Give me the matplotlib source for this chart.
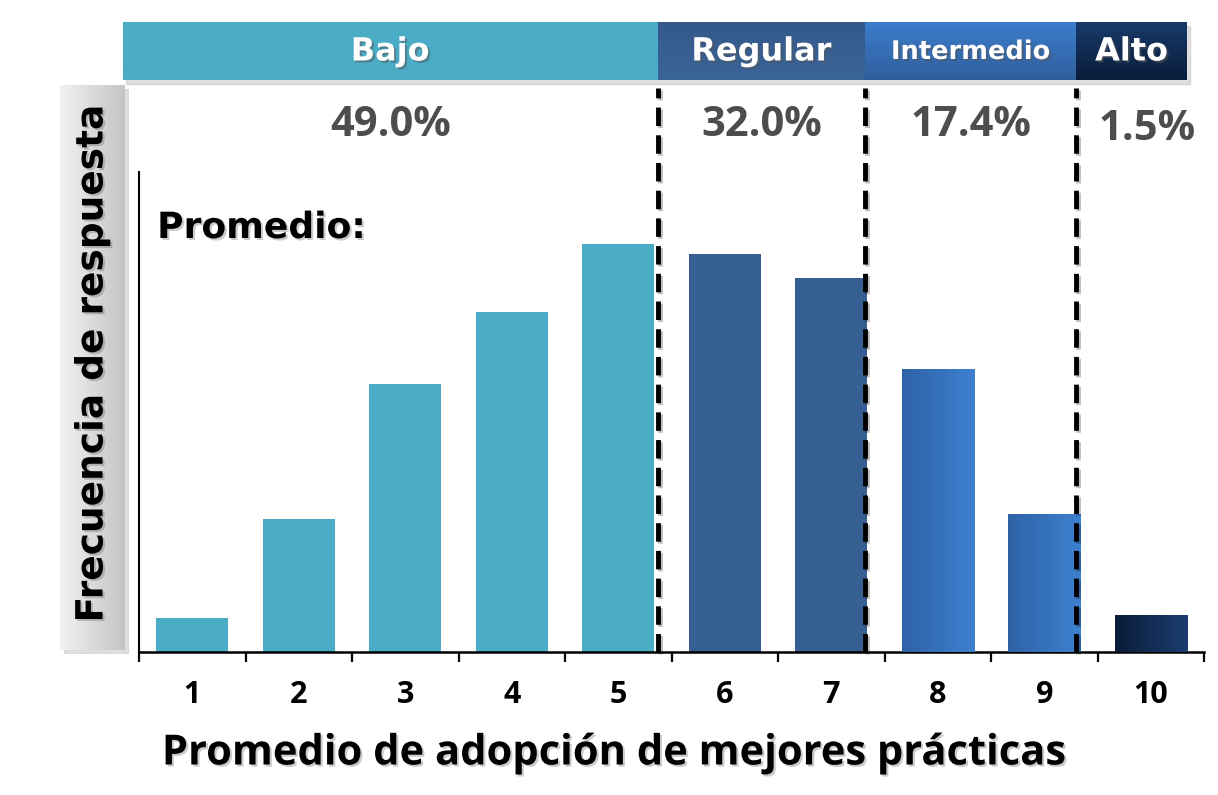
import numpy as np
import matplotlib
matplotlib.use("Agg")
import matplotlib.pyplot as plt
import matplotlib.patheffects as pe
from matplotlib.colors import LinearSegmentedColormap

# ---------------- data ----------------
scores = [1, 2, 3, 4, 5, 6, 7, 8, 9, 10]
freq = [1.4, 5.5, 11.1, 14.1, 16.9, 16.5, 15.5, 11.7, 5.7, 1.5]
groups = ["Bajo", "Regular", "Intermedio", "Alto"]
group_pct = ["49.0%", "32.0%", "17.4%", "1.5%"]
group_of_bar = [0, 0, 0, 0, 0, 1, 1, 2, 2, 3]
xlabel = "Promedio de adopción de mejores prácticas"
ylabel = "Frecuencia de respuesta"
note = "Promedio:"

# ---------------- style ----------------
W, H = 1218, 795
fig = plt.figure(figsize=(W / 100, H / 100), dpi=100)
fig.patch.set_facecolor("white")

ax_l, ax_r, ax_b, ax_t = 139, 1204, 652, 172
ax = fig.add_axes([ax_l / W, (H - ax_b) / H, (ax_r - ax_l) / W, (ax_b - ax_t) / H])
YMAX = 19.9
ax.set_xlim(0.5, 10.5)
ax.set_ylim(0, YMAX)
upx = YMAX / (ax_b - ax_t)  # data units per pixel


def py(p):
    return (ax_b - p) * upx


group_colors = ["#4BACC6", "#376092", "#3471BA", "#12305A"]
grad = {
    2: ("#2E62A6", "#3E81D0"),
    3: ("#0A1C38", "#1A3D70"),
}
band_grad = {
    0: ("#4BACC6", "#4BACC6"),
    1: ("#3B6598", "#34598A"),
    2: ("#2F5E9E", "#3C7DCB"),
    3: ("#0A1D3A", "#183A6A"),
}

bar_colors = [group_colors[g] for g in group_of_bar]
bars = ax.bar(scores, freq, width=0.68, color=bar_colors, zorder=2)


def gradient(axx, x0, x1, y0, y1, c0, c1, horizontal=True, zorder=3):
    cmap = LinearSegmentedColormap.from_list("g", [c0, c1])
    arr = np.linspace(0, 1, 256)
    img = arr[None, :] if horizontal else arr[:, None]
    axx.imshow(img, cmap=cmap, extent=(x0, x1, y0, y1), aspect="auto",
               origin="lower" if horizontal else "upper", zorder=zorder,
               clip_on=False, interpolation="bilinear")


for b, g in zip(bars, group_of_bar):
    if g in grad:
        c0, c1 = grad[g]
        gradient(ax, b.get_x(), b.get_x() + b.get_width(), 0, b.get_height(), c0, c1)

soft = lambda a=0.3: [pe.SimplePatchShadow(offset=(1.5, -1.5), shadow_rgbFace="#555555", alpha=a), pe.Normal()]

# group edges / dashed separators
group_edges = [0.35, 5.37, 7.32, 9.30, 10.34]
for xe in group_edges[1:-1]:
    ax.plot([xe, xe], [0, py(88)], color="black", lw=3.5,
            linestyle=(0, (3.8, 1.9)), clip_on=False, zorder=4,
            path_effects=[pe.SimpleLineShadow(offset=(1.5, -1.5), alpha=0.25), pe.Normal()])

# header band
band_y0, band_y1 = py(80), py(22)
ax.add_patch(plt.Rectangle((group_edges[0] + 0.03, band_y0 - 4 * upx), group_edges[-1] - group_edges[0],
                           band_y1 - band_y0, color="#B8B8B8", alpha=0.45, clip_on=False, zorder=4))
band_fs = [23, 23, 18.5, 23]
for i, name in enumerate(groups):
    x0, x1 = group_edges[i], group_edges[i + 1]
    c0, c1 = band_grad[i]
    gradient(ax, x0, x1, band_y0, band_y1, c1, c0, horizontal=False, zorder=5)
    ax.text((x0 + x1) / 2, py(52), name, ha="center", va="center", color="white",
            fontsize=band_fs[i], fontweight="bold", family="DejaVu Sans",
            path_effects=soft(0.5), zorder=7, clip_on=False)
    px = (x0 + x1) / 2 + (0.15 if i == 3 else 0)
    pyy = py(130) if i == 3 else py(125)
    ax.text(px, pyy, group_pct[i], ha="center", va="center", color="#4D4D4D",
            fontsize=30, fontweight="bold", family="Open Sans", zorder=7, clip_on=False)

ax.text(0.67, py(228), note, ha="left", va="center", color="black", fontsize=26,
        fontweight="bold", family="DejaVu Sans", path_effects=soft(0.3), zorder=7)

# axes styling
for s in ["top", "right"]:
    ax.spines[s].set_visible(False)
ax.spines["left"].set_linewidth(1.5)
ax.spines["bottom"].set_linewidth(1.8)
ax.set_yticks([])
ax.set_xticks(scores)
ax.set_xticklabels([str(s) for s in scores], fontsize=22, fontweight="bold", family="Open Sans")
ax.tick_params(axis="x", which="major", length=0, pad=20)
ax.set_xticks(np.arange(0.5, 11, 1), minor=True)
ax.tick_params(axis="x", which="minor", length=7, width=1.6, direction="out")

ax.set_xlabel(xlabel, fontsize=30, fontweight="bold", family="Open Sans", path_effects=soft(0.3))
ax.xaxis.set_label_coords(((160 + 1068) / 2 - ax_l) / (ax_r - ax_l), -(754 - ax_b) / (ax_b - ax_t))
ax.xaxis.label.set_va("center")

# y label box
bx0, bx1, by0, by1 = 60, 125, 85, 650
sh = fig.add_axes([(bx0 + 4) / W, (H - by1 - 4) / H, (bx1 - bx0) / W, (by1 - by0) / H])
sh.axis("off")
sh.add_patch(plt.Rectangle((0, 0), 1, 1, transform=sh.transAxes, color="#C8C8C8", alpha=0.6))
box = fig.add_axes([bx0 / W, (H - by1) / H, (bx1 - bx0) / W, (by1 - by0) / H])
cm = LinearSegmentedColormap.from_list("gb", ["#F2F2F2", "#C4C4C4"])
box.imshow(np.linspace(0, 1, 256)[None, :], cmap=cm, aspect="auto", extent=(0, 1, 0, 1))
box.set_xlim(0, 1)
box.set_ylim(0, 1)
box.axis("off")
box.text(0.5, 0.5 + 4 / (by1 - by0), ylabel, rotation=90, ha="center", va="center", fontsize=27,
         fontweight="bold", family="DejaVu Sans", color="black", path_effects=soft(0.3))

fig.savefig("out.png", dpi=100, facecolor="white")
